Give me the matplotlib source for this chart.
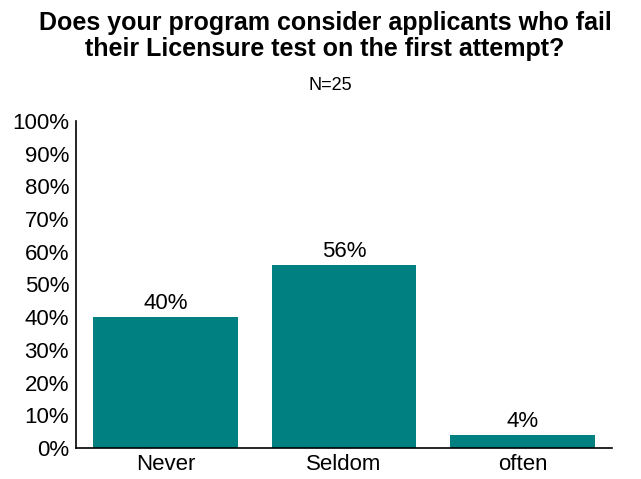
import matplotlib
matplotlib.use('Agg')
import matplotlib.pyplot as plt

categories = ['Never', 'Seldom', 'often']
percentages = [40, 56, 4]
yticks = [0, 10, 20, 30, 40, 50, 60, 70, 80, 90, 100]

plt.rcParams['font.family'] = ['Liberation Sans', 'DejaVu Sans']

fig = plt.figure(figsize=(6.41, 4.79), dpi=100)
ax = fig.add_axes([0.1186, 0.0647, 0.836, 0.683])

x = list(range(len(categories)))
ax.bar(x, percentages, width=0.81, color='#008080')
for xi, v in zip(x, percentages):
    ax.text(xi, v + 1, f'{v}%', ha='center', va='bottom', fontsize=16)

ax.set_xlim(-0.5, 2.5)
ax.set_ylim(0, 100)
ax.set_yticks(yticks)
ax.set_yticklabels([f'{t}%' for t in yticks], fontsize=16)
ax.set_xticks(x)
ax.set_xticklabels(categories, fontsize=16)
ax.tick_params(axis='y', length=0, pad=5)
ax.tick_params(axis='x', length=0, pad=4)
for s in ['top', 'right']:
    ax.spines[s].set_visible(False)
ax.spines['left'].set_linewidth(1.2)
ax.spines['bottom'].set_linewidth(1.2)

fig.text(0.507, 0.978, 'Does your program consider applicants who fail\ntheir Licensure test on the first attempt?',
         ha='center', va='top', fontsize=18, fontweight='bold', linespacing=1.12)
fig.text(0.515, 0.822, 'N=25', ha='center', va='center', fontsize=13)

fig.savefig('out.png', dpi=100)
